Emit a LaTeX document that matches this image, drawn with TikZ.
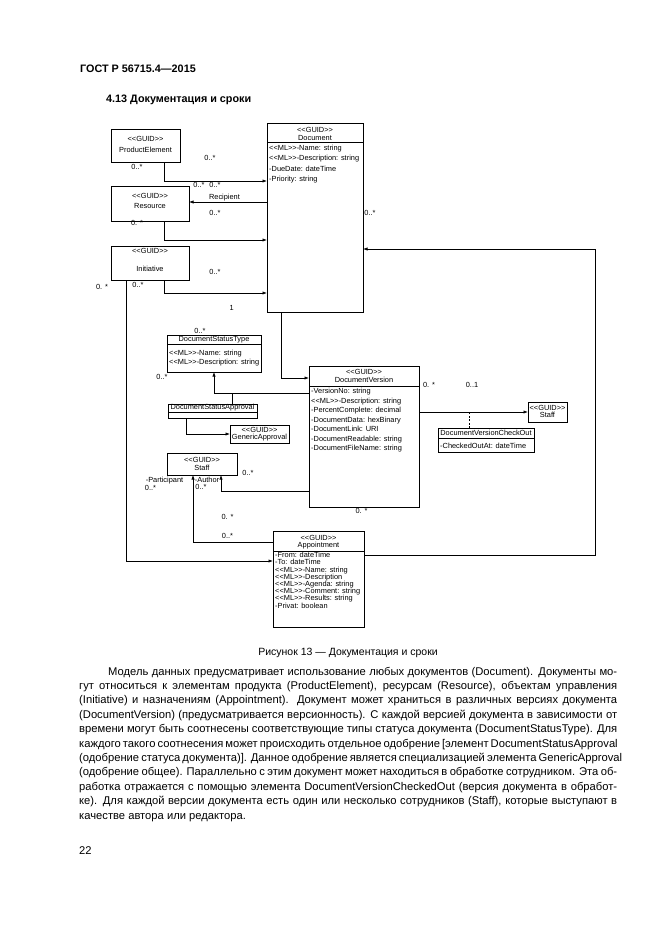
\documentclass[tikz,border=0pt]{standalone}
\usepackage{fontspec}
\setmainfont{Liberation Sans}
\newfontfamily\dg{Liberation Sans}
\usetikzlibrary{arrows.meta}
\begin{document}
\begin{tikzpicture}[x=1pt,y=1pt,
 cls/.style={draw, line width=0.6pt, inner sep=0pt, outer sep=0pt, anchor=north west},
 lbl/.style={font=\dg\fontsize{7.4}{8}\selectfont, inner sep=0pt},
 attr/.style={lbl, anchor=base west},
 conn/.style={line width=0.6pt},
 arr/.style={conn, -{Latex[length=4.5pt,width=3.2pt]}},
 para/.style={font=\dg\fontsize{11.2}{14.4}\selectfont, inner sep=0pt, anchor=base west},
 hdr/.style={font=\dg\bfseries\fontsize{10.8}{13}\selectfont, inner sep=0pt, anchor=base west}]
\fill[white] (0,0) rectangle (661,-935);
\useasboundingbox (0,0) rectangle (661,-935);

% page header
\node[hdr] (gost) at (80,-72) {ГОСТ Р 56715.4—2015};
\node[hdr] (head) at (106,-102) {4.13 Документация и сроки};

% ---------- classes ----------
\node[cls, minimum width=69pt, minimum height=33pt] (pe) at (111,-129) {};
\node[lbl] (peG) at (145.5,-139) {<<GUID>>};
\node[lbl] (peN) at (145.5,-150) {ProductElement};

\node[cls, minimum width=78pt, minimum height=35pt] (res) at (111,-186) {};
\node[lbl] (resG) at (150,-196) {<<GUID>>};
\node[lbl] (resN) at (150,-206) {Resource};

\node[cls, minimum width=78pt, minimum height=34pt] (ini) at (111,-246) {};
\node[lbl] (iniG) at (150,-251) {<<GUID>>};
\node[lbl] (iniN) at (150,-269) {Initiative};

\node[cls, minimum width=96pt, minimum height=189pt] (doc) at (267,-123) {};
\node[lbl] (docG) at (315,-130) {<<GUID>>};
\node[lbl] (docN) at (315,-137.5) {Document};
\draw[conn] ([yshift=-19pt]doc.north west) -- ([yshift=-19pt]doc.north east);
\foreach \t [count=\i] in {{<<ML>>-Name: string},{<<ML>>-Description: string},{-DueDate: dateTime},{-Priority: string}}
  \node[attr] (docA\i) at (269,{-150.6-10.2*(\i-1)}) {\t};

\node[cls, minimum width=110pt, minimum height=141pt] (dv) at (309,-366) {};
\node[lbl] (dvG) at (364,-372) {<<GUID>>};
\node[lbl] (dvN) at (364,-379.5) {DocumentVersion};
\draw[conn] ([yshift=-20pt]dv.north west) -- ([yshift=-20pt]dv.north east);
\foreach \t [count=\i] in {{-VersionNo: string},{<<ML>>-Description: string},{-PercentComplete: decimal},{-DocumentData: hexBinary},{-DocumentLink: URI},{-DocumentReadable: string},{-DocumentFileName: string}}
  \node[attr] (dvA\i) at (311,{-393.6-9.5*(\i-1)}) {\t};

\node[cls, minimum width=94pt, minimum height=37pt] (dst) at (167,-335) {};
\node[lbl] (dstN) at (214,-339.5) {DocumentStatusType};
\draw[conn] ([yshift=-9pt]dst.north west) -- ([yshift=-9pt]dst.north east);
\node[attr] (dstA1) at (169,-355.6) {<<ML>>-Name: string};
\node[attr] (dstA2) at (169,-364.6) {<<ML>>-Description: string};

\node[cls, minimum width=89pt, minimum height=14pt] (dsa) at (168,-404) {};
\node[lbl] (dsaN) at (212.5,-408) {DocumentStatusApproval};
\draw[conn] ([yshift=-8pt]dsa.north west) -- ([yshift=-8pt]dsa.north east);

\node[cls, minimum width=59pt, minimum height=18pt] (ga) at (230,-425) {};
\node[lbl] (gaG) at (259.5,-430) {<<GUID>>};
\node[lbl] (gaN) at (259.5,-438) {GenericApproval};

\node[cls, minimum width=70pt, minimum height=22pt] (staff) at (167,-453) {};
\node[lbl] (stG) at (202,-460) {<<GUID>>};
\node[lbl] (stN) at (202,-467.5) {Staff};

\node[cls, minimum width=39pt, minimum height=20pt] (st2) at (528,-402) {};
\node[lbl] (st2G) at (547.5,-407.5) {<<GUID>>};
\node[lbl] (st2N) at (547.5,-415) {Staff};

\node[cls, minimum width=96pt, minimum height=24pt] (dvco) at (438,-428) {};
\node[lbl] (dvcoN) at (486,-433) {DocumentVersionCheckOut};
\draw[conn] ([yshift=-10pt]dvco.north west) -- ([yshift=-10pt]dvco.north east);
\node[attr] (dvcoA) at (440,-448.6) {-CheckedOutAt: dateTime};

\node[cls, minimum width=91pt, minimum height=96pt] (app) at (273,-531) {};
\node[lbl] (appG) at (318.5,-538) {<<GUID>>};
\node[lbl] (appN) at (318.5,-546) {Appointment};
\draw[conn] ([yshift=-20pt]app.north west) -- ([yshift=-20pt]app.north east);
\foreach \t [count=\i] in {{-From: dateTime},{-To: dateTime},{<<ML>>-Name: string},{<<ML>>-Description},{<<ML>>-Agenda: string},{<<ML>>-Comment: string},{<<ML>>-Results: string},{-Privat: boolean}}
  \node[attr] (appA\i) at (275,{-557.6-7.2*(\i-1)}) {\t};

% ---------- connectors ----------
\draw[arr] ([xshift=18.5pt]pe.south) |- ([yshift=-58pt]doc.north west);
\draw[arr] ([yshift=-79pt]doc.north west) -- ([yshift=1.5pt]res.east);
\draw[arr] ([xshift=14pt]res.south) |- ([yshift=-117pt]doc.north west);
\draw[arr] ([xshift=14pt]ini.south) |- ([yshift=-170pt]doc.north west);
\draw[arr] ([xshift=-24pt]ini.south) |- ([yshift=-30pt]app.north west);
\draw[arr] ([xshift=14pt]doc.south west) |- ([yshift=-12pt]dv.north west);
\draw[arr] ([yshift=-24pt]app.north east) -| ([xshift=232pt,yshift=-126pt]doc.north east) -- ([yshift=-126pt]doc.north east);
\draw[arr] ([yshift=-27pt]dv.north west) -| (dst.south);
\draw[conn] ([xshift=20pt]dsa.north) -- ++(0,11);
\draw[arr] ([xshift=-26.5pt]dsa.south) |- (ga.west);
\draw[arr] ([yshift=-125pt]dv.north west) -| ([xshift=19pt]staff.south);
\draw[arr] ([yshift=-11pt]app.north west) -| ([xshift=-9pt]staff.south);
\draw[arr] ([yshift=-46pt]dv.north east) -- (st2.west);
\draw[conn, dashed, dash pattern=on 2pt off 1.5pt] ([xshift=-17pt]dvco.north) -- ++(0,16);

% ---------- multiplicities / roles ----------
\node[lbl] (m1) at (210,-158) {0..*};
\node[lbl] (m2) at (137,-167) {0..*};
\node[lbl] (m3) at (199,-185) {0..*};
\node[lbl] (m4) at (215,-185) {0..*};
\node[lbl] (rcp) at (224.5,-197.7) {Recipient};
\node[lbl] (m5) at (215,-213) {0..*};
\node[lbl] (m6) at (137,-223) {0. *};
\node[lbl] (m7) at (370,-213) {0..*};
\node[lbl] (m8) at (215,-271.7) {0..*};
\node[lbl] (m9) at (102,-286.7) {0. *};
\node[lbl] (m10) at (138,-285) {0..*};
\node[lbl] (m11) at (231.7,-308.3) {1};
\node[lbl] (m12) at (200,-330.7) {0..*};
\node[lbl] (m13) at (162,-376.7) {0..*};
\node[lbl] (m14) at (429,-385) {0. *};
\node[lbl] (m15) at (472,-385) {0..1};
\node[lbl] (m16) at (248,-473) {0..*};
\node[lbl] (part) at (164.5,-480.7) {-Participant};
\node[lbl] (m17) at (150.5,-488) {0..*};
\node[lbl] (auth) at (207,-480) {-Author};
\node[lbl] (m18) at (201,-487) {0..*};
\node[lbl] (m19) at (361.5,-510.7) {0. *};
\node[lbl] (m20) at (227.5,-517) {0. *};
\node[lbl] (m21) at (227.5,-535.7) {0..*};

% ---------- caption and text ----------
\node[font=\dg\fontsize{10.5}{12}\selectfont, inner sep=0pt, anchor=base] (cap) at (348,-655.5) {Рисунок 13 — Документация и сроки};

\node[para] (l1) at (108,-675) {\makebox[509pt][s]{Модель данных предусматривает использование любых документов (Document). Документы мо-}};
\node[para] (l2) at (79,-689.4) {\makebox[538pt][s]{гут относиться к элементам продукта (ProductElement), ресурсам (Resource), объектам управления}};
\node[para] (l3) at (79,-703.8) {\makebox[538pt][s]{(Initiative) и назначениям (Appointment). Документ может храниться в различных версиях документа}};
\node[para] (l4) at (79,-718.2) {\makebox[538pt][s]{(DocumentVersion) (предусматривается версионность). С каждой версией документа в зависимости от}};
\node[para] (l5) at (79,-732.6) {\makebox[538pt][s]{времени могут быть соотнесены соответствующие типы статуса документа (DocumentStatusType). Для}};
\node[para] (l6) at (79,-747) {\makebox[538pt][s]{каждого такого соотнесения может происходить отдельное одобрение [элемент DocumentStatusApproval}};
\node[para] (l7) at (79,-761.4) {\makebox[538pt][s]{(одобрение статуса документа)]. Данное одобрение является специализацией элемента GenericApproval}};
\node[para] (l8) at (79,-775.8) {\makebox[538pt][s]{(одобрение общее). Параллельно с этим документ может находиться в обработке сотрудником. Эта об-}};
\node[para] (l9) at (79,-790.2) {\makebox[538pt][s]{работка отражается с помощью элемента DocumentVersionCheckedOut (версия документа в обработ-}};
\node[para] (l10) at (79,-804.6) {\makebox[538pt][s]{ке). Для каждой версии документа есть один или несколько сотрудников (Staff), которые выступают в}};
\node[para] (l11) at (79,-819) {качестве автора или редактора.};

\node[para] (pg) at (79,-854) {22};
\end{tikzpicture}
\end{document}
